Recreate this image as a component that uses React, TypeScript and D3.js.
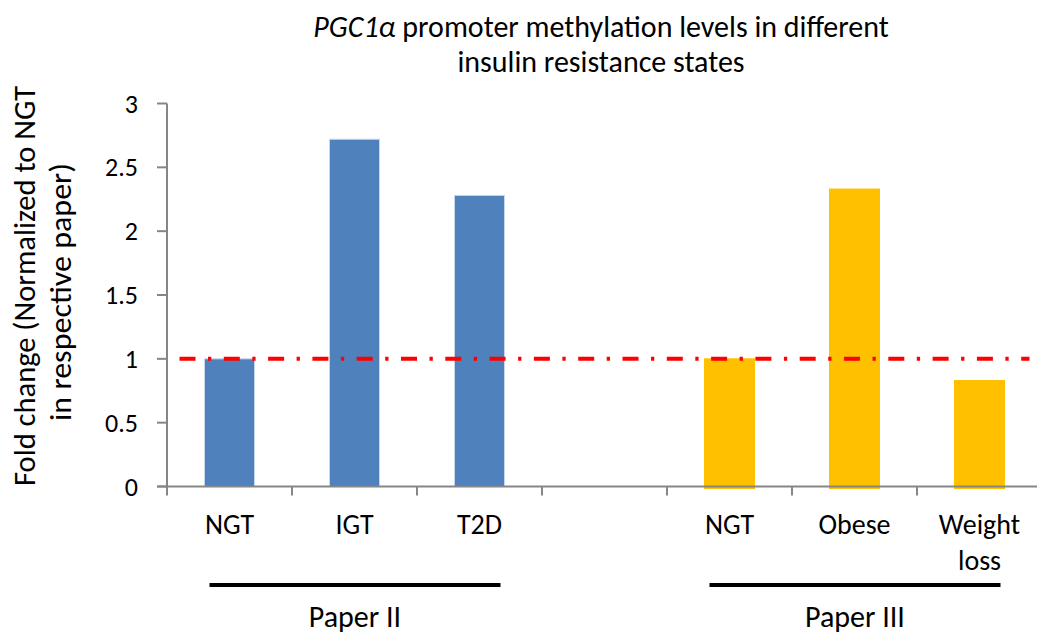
import React from 'react';
import * as d3 from 'd3';

// categories along the x axis ('' is the empty gap between the two papers)
const categories = ['NGT', 'IGT', 'T2D', '', 'NGT2', 'Obese', 'Weight loss'];
const categoryLabels = [['NGT'], ['IGT'], ['T2D'], [], ['NGT'], ['Obese'], ['Weight', 'loss']];
const paperIIValues = [1.0, 2.72, 2.28];
const paperIIIValues = [1.0, 2.33, 0.83];
const paperIICats = ['NGT', 'IGT', 'T2D'];
const paperIIICats = ['NGT2', 'Obese', 'Weight loss'];
const yTicks = [0, 0.5, 1, 1.5, 2, 2.5, 3];
const referenceLevel = 1;
const groups = [
  { label: 'Paper II', cats: paperIICats },
  { label: 'Paper III', cats: paperIIICats },
];

const FONT = 'Calibri, Carlito, Lato, sans-serif';
const AXIS = '#868686';

function App() {
  const width = 1037;
  const height = 635;
  const margin = { left: 167, right: -5, top: 103.5, bottom: 148.5 };

  const x = d3.scaleBand<string>()
    .domain(categories)
    .range([margin.left, width - margin.right])
    .paddingInner(0.6)
    .paddingOuter(0.3);

  const y = d3.scaleLinear()
    .domain([0, 3])
    .range([height - margin.bottom, margin.top]);

  const bw = x.bandwidth();
  const step = x.step();
  const x0 = margin.left;
  const x1 = width - margin.right;
  const y0 = y(0);

  const bars = [
    ...paperIICats.map((c, i) => ({ c, v: paperIIValues[i], fill: '#4F81BD', stroke: '#c8d6ea' })),
    ...paperIIICats.map((c, i) => ({ c, v: paperIIIValues[i], fill: '#FFC000', stroke: '#FFC000' })),
  ];

  const refStart = (x(categories[0]) as number) - bw / 2;
  const refEnd = (x(categories[categories.length - 1]) as number) + bw * 1.5;

  return (
    <svg width={width} height={height} style={{ position: 'absolute', left: 0, top: 0, background: '#fff' }}
      fontFamily={FONT}>
      {/* title */}
      <text x={601} y={37} textAnchor="middle" fontSize={30} fill="#000">
        <tspan fontStyle="italic">PGC1α</tspan> promoter methylation levels in different
      </text>
      <text x={601} y={72} textAnchor="middle" fontSize={30} fill="#000">insulin resistance states</text>

      {/* y axis title */}
      <g transform="translate(35,286) rotate(-90)">
        <text textAnchor="middle" fontSize={31} fill="#000" textLength={400} lengthAdjust="spacingAndGlyphs">
          Fold change (Normalized to NGT
        </text>
      </g>
      <g transform="translate(71,292) rotate(-90)">
        <text textAnchor="middle" fontSize={31} fill="#000" textLength={258} lengthAdjust="spacingAndGlyphs">
          in respective paper)
        </text>
      </g>

      {/* bars */}
      {bars.map((b, i) => (
        <rect key={i} x={x(b.c)} y={y(b.v)} width={bw} height={y0 - y(b.v) + (b.fill === '#FFC000' ? 2 : 0)}
          fill={b.fill} stroke={b.stroke} strokeWidth={1} />
      ))}

      {/* y axis */}
      <line x1={x0} x2={x0} y1={y(3)} y2={y0} stroke={AXIS} strokeWidth={2} />
      {yTicks.map(t => (
        <g key={t}>
          <line x1={x0 - 10} x2={x0} y1={y(t)} y2={y(t)} stroke={AXIS} strokeWidth={2} />
          <text x={x0 - 29} y={y(t)} dy="0.35em" textAnchor="end" fontSize={26} fill="#000">{t}</text>
        </g>
      ))}

      {/* x axis */}
      <line x1={x0 - 10} x2={x1} y1={y0} y2={y0} stroke={AXIS} strokeWidth={2} />
      {categories.map((c, i) => (
        <line key={i} x1={(x(c) as number) - (step - bw) / 2} x2={(x(c) as number) - (step - bw) / 2}
          y1={y0} y2={y0 + 9} stroke={AXIS} strokeWidth={2} />
      ))}
      {categories.map((c, i) => (
        <text key={i} x={(x(c) as number) + bw / 2} y={534} textAnchor="middle" fontSize={28} fill="#000">
          {categoryLabels[i].map((l, j) => (
            <tspan key={j} x={(x(c) as number) + bw / 2} dy={j === 0 ? 0 : 36}>{l}</tspan>
          ))}
        </text>
      ))}

      {/* reference line at 1 */}
      <line x1={refStart} x2={refEnd} y1={y(referenceLevel)} y2={y(referenceLevel)}
        stroke="#FF0000" strokeWidth={4} strokeDasharray="16 12.5 3.3 12.5" />

      {/* paper group brackets */}
      {groups.map(g => {
        const a = (x(g.cats[0]) as number) + 5;
        const b = (x(g.cats[g.cats.length - 1]) as number) + bw - 4;
        return (
          <g key={g.label}>
            <line x1={a} x2={b} y1={585} y2={585} stroke="#000" strokeWidth={4} />
            <text x={(a + b) / 2} y={627} textAnchor="middle" fontSize={30} fill="#000">{g.label}</text>
          </g>
        );
      })}
    </svg>
  );
}

export default App;
